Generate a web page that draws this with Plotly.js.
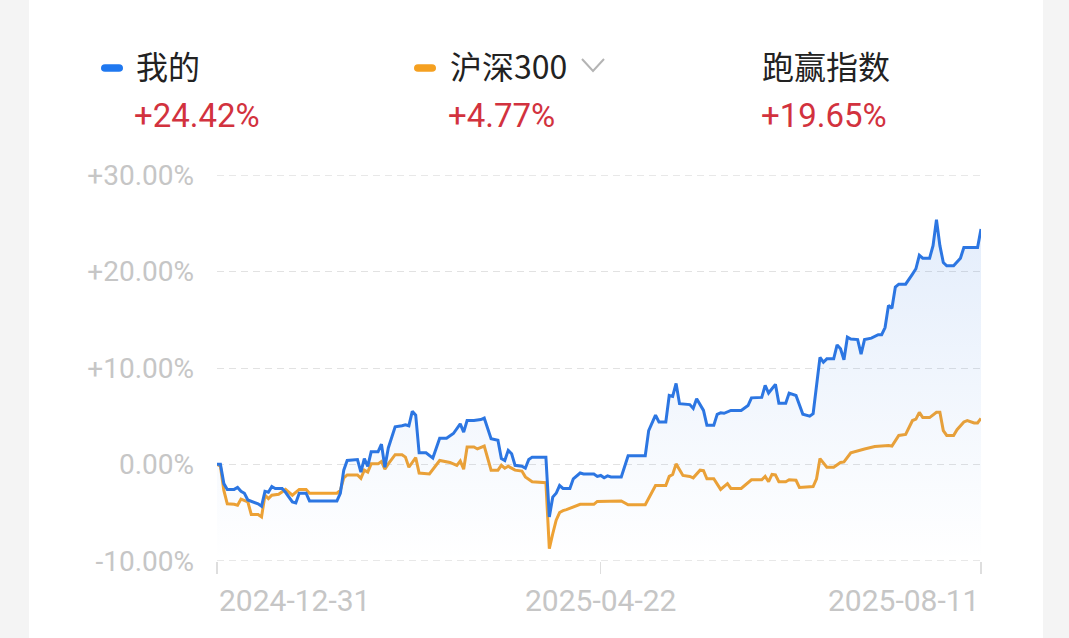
<!DOCTYPE html>
<html>
<head>
<meta charset="utf-8">
<script src="https://cdn.plot.ly/plotly-3.0.1.min.js"></script>
<style>
  html, body { margin: 0; padding: 0; background: #f4f4f4; width: 1069px; height: 638px; overflow: hidden; }
  #card { position: absolute; left: 29px; top: 0; width: 1014px; height: 638px; background: #ffffff; }
  #chart { width: 1014px; height: 638px; }
</style>
</head>
<body>
<div id="card"><div id="chart"></div></div>
<script>
// ---- data (day offsets from 2024-12-31, returns in %) ----
const startDate = '2024-12-31';
const xTickDays = [0, 112, 223];
const xTickLabels = ['2024-12-31', '2025-04-22', '2025-08-11'];
const yTickValues = [-10, 0, 10, 20, 30];
const yTickLabels = ['-10.00%', '0.00%', '+10.00%', '+20.00%', '+30.00%'];

const seriesNames = ['我的', '沪深300', '跑赢指数'];
const seriesTotals = ['+24.42%', '+4.77%', '+19.65%'];

const myDays = [
  0,1,2,3,5,6,7,8,9,11,
  12,13,14,15,16,17,19,20,22,23,
  24,26,27,35,36,37,38,41,42,43,
  44,45,47,48,49,50,51,52,54,55,
  56,57,58,59,61,63,65,67,69,71,
  72,73,75,77,78,80,82,83,84,85,
  86,87,89,90,91,92,96,97,98,99,
  100,101,103,104,106,107,110,111,112,113,
  114,115,118,120,125,126,128,129,131,132,
  133,134,135,138,139,140,142,143,145,146,
  147,148,150,153,155,156,159,160,161,163,
  164,166,167,169,171,173,174,176,177,178,
  180,181,182,183,184,185,187,188,189,191,
  193,194,195,196,197,198,199,201,203,204,
  205,206,208,209,210,211,212,213,215,217,
  218,222,223
];
const myValues = [
  0,0,-2.0,-2.6,-2.6,-2.4,-2.8,-3.0,-3.7,-4.0,
  -4.1,-4.35,-2.8,-2.9,-2.3,-2.5,-2.5,-2.9,-3.9,-4.0,
  -3.0,-3.0,-3.8,-3.8,-3.0,-0.6,0.4,0.5,-0.8,0.6,
  -0.2,1.3,1.3,2.1,-0.3,1.7,2.8,3.9,4.0,4.1,
  4.0,5.5,5.1,1.2,1.2,0.65,2.7,2.7,3.2,4.2,
  3.35,4.55,4.55,4.65,4.8,2.65,2.5,0.6,0.4,1.45,
  1.1,-0.1,-0.2,-0.4,0.5,0.75,0.75,-5.45,-3.4,-3.0,
  -2.2,-2.5,-2.5,-1.5,-0.9,-1.0,-1.0,-1.25,-1.15,-1.4,
  -1.2,-1.3,-1.3,0.9,0.9,3.5,5.1,4.4,4.4,7.15,
  7.05,8.4,6.3,6.2,5.8,6.8,5.6,4.05,4.05,5.2,
  5.35,5.3,5.6,5.6,6.1,6.9,6.95,8.2,7.4,8.3,
  6.35,6.35,7.4,7.15,5.2,5.0,5.25,11.1,10.6,10.95,
  10.95,12.4,12.0,10.85,13.2,13.0,12.95,11.45,12.95,13.1,
  13.45,13.45,14.2,16.5,16.2,18.4,18.7,18.7,19.75,20.3,
  21.7,21.4,21.4,22.7,25.4,22.7,20.95,20.6,20.6,21.4,
  22.5,22.5,24.42
];

const hsDays = [
  0,1,2,3,5,6,7,9,10,12,
  13,14,15,16,18,20,22,24,26,27,
  35,36,37,38,41,42,43,44,45,47,
  48,49,50,52,54,55,56,58,59,62,
  65,67,68,70,71,72,73,75,76,78,
  80,82,83,84,85,87,89,90,92,96,
  97,98,99,100,101,102,104,106,110,111,
  118,120,125,128,131,132,133,134,136,138,
  139,141,142,143,145,147,149,150,153,156,
  159,160,161,162,163,164,166,167,169,170,
  174,175,176,178,180,182,183,185,189,192,
  196,197,199,201,203,204,205,206,208,210,
  211,212,213,215,216,218,219,221,222,223
];
const hsValues = [
  0,-0.2,-2.7,-4.1,-4.15,-4.25,-3.6,-3.9,-5.2,-5.2,
  -5.45,-3.2,-3.55,-3.2,-3.1,-2.6,-3.2,-2.6,-2.6,-3.0,
  -3.0,-2.7,-1.4,-1.1,-1.1,-1.45,-0.6,-0.8,0.05,0.05,
  0.3,-0.5,0.05,1.0,1.0,0.75,-0.3,0.7,-0.9,-1.0,
  0.4,0.25,0.2,-0.1,0.35,-0.5,1.8,1.8,1.6,1.9,
  -0.6,-0.6,-0.1,-0.4,-0.2,-0.6,-0.7,-1.3,-1.8,-1.9,
  -8.75,-7.2,-5.8,-5.0,-4.8,-4.7,-4.4,-4.15,-4.15,-3.85,
  -3.8,-4.2,-4.2,-2.2,-2.2,-1.25,-1.05,0.05,-1.15,-1.25,
  -1.4,-0.6,-0.65,-1.5,-1.5,-2.6,-2.0,-2.5,-2.5,-1.6,
  -1.6,-1.25,-1.8,-1.05,-1.1,-1.8,-1.8,-1.6,-1.65,-2.4,
  -2.3,-1.5,0.6,-0.3,-0.3,0.2,0.25,1.2,1.6,1.85,
  1.95,1.9,3.0,3.1,4.55,4.7,5.4,4.85,4.85,5.4,
  5.4,3.5,3.0,3.0,3.6,4.4,4.55,4.3,4.3,4.77
];

// ---- helpers ----
function toDate(d) {
  const p = startDate.split('-').map(Number);
  const t = Date.UTC(p[0], p[1] - 1, p[2]) + d * 86400000;
  return new Date(t).toISOString().slice(0, 10);
}
// plot area in page pixels: x 217..981, y 175..561
const PL = 217, PR = 981, PT = 175, PB = 561;
const px = v => (v - PL) / (PR - PL);
const py = v => (PB - v) / (PB - PT);

const BLUE = '#2c76e2';
const ORANGE = '#f0a232';
const RED = '#d2323e';
const GRID = '#e2e2e2';
const CJK = '"Noto Sans CJK SC", "Noto Sans", sans-serif';
const NUM = 'Roboto, "Noto Sans", sans-serif';

const xStart = toDate(0), xEnd = toDate(223);

const traces = [
  {
    x: hsDays.map(toDate), y: hsValues, type: 'scatter', mode: 'lines',
    line: { color: ORANGE, width: 3, shape: 'linear' }, hoverinfo: 'skip', showlegend: false
  },
  {
    x: [xStart, xEnd], y: [-10, -10], type: 'scatter', mode: 'lines',
    line: { width: 0, color: 'rgba(0,0,0,0)' }, hoverinfo: 'skip', showlegend: false
  },
  {
    x: myDays.map(toDate), y: myValues, type: 'scatter', mode: 'lines',
    line: { color: BLUE, width: 3 }, fill: 'tonexty',
    fillgradient: { type: 'vertical', colorscale: [[0, 'rgba(44,118,226,0.0)'], [1, 'rgba(44,118,226,0.13)']] },
    hoverinfo: 'skip', showlegend: false
  }
];

function pill(cx, cy, color) {
  return {
    type: 'path', xref: 'paper', yref: 'paper', xsizemode: 'pixel', ysizemode: 'pixel',
    xanchor: px(cx), yanchor: py(cy),
    path: 'M -7,-3.8 L 7,-3.8 Q 11,-3.8 11,0 Q 11,3.8 7,3.8 L -7,3.8 Q -11,3.8 -11,0 Q -11,-3.8 -7,-3.8 Z',
    fillcolor: color, line: { width: 0 }
  };
}

const annotations = [
  { text: seriesNames[0], x: px(134), y: py(65), xanchor: 'left', yanchor: 'middle', font: { family: CJK, size: 32, color: '#222222' } },
  { text: seriesNames[1], x: px(448), y: py(65), xanchor: 'left', yanchor: 'middle', font: { family: CJK, size: 32, color: '#222222' } },
  { text: seriesNames[2], x: px(760), y: py(65), xanchor: 'left', yanchor: 'middle', font: { family: CJK, size: 32, color: '#222222' } },
  { text: seriesTotals[0], x: px(132), y: py(116), xanchor: 'left', yanchor: 'middle', font: { family: NUM, size: 33, color: RED } },
  { text: seriesTotals[1], x: px(446), y: py(116), xanchor: 'left', yanchor: 'middle', font: { family: NUM, size: 33, color: RED } },
  { text: seriesTotals[2], x: px(759), y: py(116), xanchor: 'left', yanchor: 'middle', font: { family: NUM, size: 33, color: RED } }
].map(a => Object.assign({ xref: 'paper', yref: 'paper', showarrow: false }, a));

xTickDays.forEach((d, i) => {
  annotations.push({
    xref: 'x', yref: 'paper', x: toDate(d), y: py(600), showarrow: false,
    text: xTickLabels[i],
    xanchor: i === 0 ? 'left' : (i === xTickDays.length - 1 ? 'right' : 'center'),
    yanchor: 'middle',
    font: { family: NUM, size: 30, color: '#c6c6c6' }
  });
});

const shapes = [
  pill(112, 68, '#1f78f0'),
  pill(425, 68, '#f5a020'),
  {
    type: 'path', xref: 'paper', yref: 'paper', xsizemode: 'pixel', ysizemode: 'pixel',
    xanchor: px(593), yanchor: py(65),
    path: 'M -11,6 L 0,-6 L 11,6', line: { color: '#b4b4b4', width: 2 }
  }
];
// edge gridlines (top and bottom of the value range)
[yTickValues[0], yTickValues[yTickValues.length - 1]].forEach(v => {
  shapes.push({
    type: 'line', xref: 'paper', yref: 'y', x0: 0, x1: 1, y0: v, y1: v, layer: 'below',
    line: { color: GRID, width: 1, dash: '7px,5px' }
  });
});

const layout = {
  width: 1014, height: 638,
  margin: { l: PL - 29, r: 1043 - PR, t: PT, b: 638 - PB, pad: 0 },
  paper_bgcolor: '#ffffff', plot_bgcolor: '#ffffff',
  showlegend: false,
  xaxis: {
    type: 'date', range: [xStart, xEnd], showgrid: false, zeroline: false, showline: false,
    tickvals: xTickDays.map(toDate), ticks: 'outside', ticklen: 12, tickwidth: 1.5, tickcolor: '#dedede',
    showticklabels: false, fixedrange: true
  },
  yaxis: {
    range: [-10.03, 30.03], tickvals: yTickValues, ticktext: yTickLabels,
    showgrid: true, gridcolor: GRID, gridwidth: 1, griddash: '7px,5px',
    zeroline: false, showline: false, ticks: '', ticklabelstandoff: 22,
    tickfont: { family: NUM, size: 28, color: '#c6c6c6' }, fixedrange: true
  },
  annotations: annotations,
  shapes: shapes
};

Plotly.newPlot('chart', traces, layout, { staticPlot: true, displayModeBar: false });
</script>
</body>
</html>
